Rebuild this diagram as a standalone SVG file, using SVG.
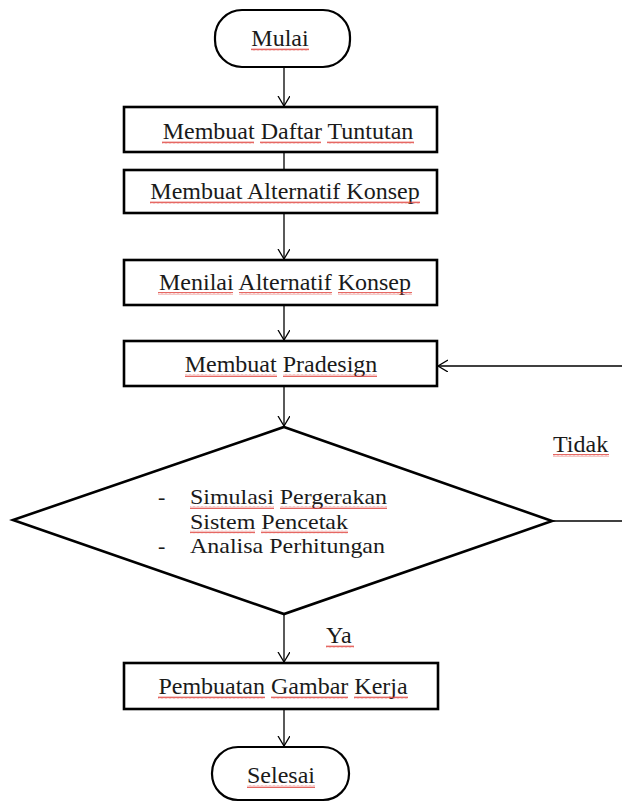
<svg xmlns="http://www.w3.org/2000/svg" width="622" height="803" viewBox="0 0 622 803">
  <style>
    .box { fill: #ffffff; stroke: #000000; stroke-width: 2.6; }
    .term { fill: #ffffff; stroke: #000000; stroke-width: 2.2; }
    .label { font-family: 'Liberation Serif', 'DejaVu Serif', serif; font-size: 24px; fill: #1a1a1a; }
    .small { font-size: 22px; }
    .mid { text-anchor: middle; }
    .conn { fill: none; stroke: #000000; stroke-width: 1.3; }
    .spell { fill: url(#squiggle); }
  </style>
  <defs>
    <marker id="arrow" markerUnits="userSpaceOnUse" markerWidth="12" markerHeight="14" refX="10" refY="6" orient="auto">
      <path d="M0,0 L10,6 L0,12" fill="none" stroke="#000000" stroke-width="1.3"/>
    </marker>
    <pattern id="squiggle" patternUnits="userSpaceOnUse" width="4" height="3">
      <path d="M0,2.4 L1,0.6 L2,2.4 L3,0.6 L4,2.4" fill="none" stroke="#e0403a" stroke-width="0.8"/>
    </pattern>
  </defs>

  <!-- connectors -->
  <g id="connectors">
    <line class="conn" x1="284" y1="67" x2="284" y2="106" marker-end="url(#arrow)"/>
    <line class="conn" x1="284" y1="152" x2="284" y2="170"/>
    <line class="conn" x1="284" y1="213" x2="284" y2="259" marker-end="url(#arrow)"/>
    <line class="conn" x1="284" y1="305" x2="284" y2="340" marker-end="url(#arrow)"/>
    <line class="conn" x1="284" y1="386" x2="284" y2="426" marker-end="url(#arrow)"/>
    <line class="conn" x1="552" y1="521" x2="622" y2="521"/>
    <line class="conn" x1="622" y1="366" x2="438" y2="366" stroke="#333333" stroke-width="1.5" marker-end="url(#arrow)"/>
    <line class="conn" x1="284" y1="614" x2="284" y2="662" marker-end="url(#arrow)"/>
    <line class="conn" x1="284" y1="709" x2="284" y2="746" marker-end="url(#arrow)"/>
  </g>

  <!-- start -->
  <g id="mulai">
    <rect class="term" x="215" y="10" width="135" height="57" rx="27" ry="27"/>
    <text class="label mid" x="280" y="46">Mulai</text>
    <rect class="spell" x="251" y="48" width="58" height="3"/>
  </g>

  <g id="daftar-tuntutan">
    <rect class="box" x="124" y="107" width="313" height="45"/>
    <text class="label mid" x="288" y="139">Membuat Daftar Tuntutan</text>
    <rect class="spell" x="162" y="141" width="92" height="3"/>
    <rect class="spell" x="260" y="141" width="61" height="3"/>
    <rect class="spell" x="327" y="141" width="87" height="3"/>
  </g>

  <g id="alternatif-konsep">
    <rect class="box" x="124" y="170" width="313" height="43"/>
    <text class="label mid" x="285" y="199">Membuat Alternatif Konsep</text>
    <rect class="spell" x="150" y="201" width="270" height="3"/>
  </g>

  <g id="menilai-konsep">
    <rect class="box" x="124" y="260" width="313" height="45"/>
    <text class="label mid" x="285" y="290">Menilai Alternatif Konsep</text>
    <rect class="spell" x="158" y="292" width="75" height="3"/>
    <rect class="spell" x="239" y="292" width="93" height="3"/>
    <rect class="spell" x="338" y="292" width="74" height="3"/>
  </g>

  <g id="pradesign">
    <rect class="box" x="124" y="341" width="313" height="45"/>
    <text class="label mid" x="281" y="372">Membuat Pradesign</text>
    <rect class="spell" x="185" y="374" width="92" height="3"/>
    <rect class="spell" x="283" y="374" width="94" height="3"/>
  </g>

  <!-- decision -->
  <g id="evaluasi">
    <polygon class="box" points="284,427 552,521 284,614 13,520"/>
    <text class="label small" x="158" y="504">-</text>
    <text class="label small" x="190" y="504" textLength="197" lengthAdjust="spacingAndGlyphs">Simulasi Pergerakan</text>
    <text class="label small" x="190" y="528.5" textLength="158" lengthAdjust="spacingAndGlyphs">Sistem Pencetak</text>
    <text class="label small" x="158" y="553">-</text>
    <text class="label small" x="190" y="553" textLength="195" lengthAdjust="spacingAndGlyphs">Analisa Perhitungan</text>
    <rect class="spell" x="190" y="506" width="84" height="3"/>
    <rect class="spell" x="280" y="506" width="107" height="3"/>
    <rect class="spell" x="190" y="530.5" width="65" height="3"/>
    <rect class="spell" x="261" y="530.5" width="87" height="3"/>
  </g>

  <g id="label-tidak">
    <text class="label" x="553" y="452">Tidak</text>
    <rect class="spell" x="553" y="454" width="56" height="3"/>
  </g>

  <g id="label-ya">
    <text class="label" x="326" y="643">Ya</text>
    <rect class="spell" x="326" y="645" width="28" height="3"/>
  </g>

  <g id="gambar-kerja">
    <rect class="box" x="124" y="663" width="314" height="46"/>
    <text class="label mid" x="283" y="694">Pembuatan Gambar Kerja</text>
    <rect class="spell" x="158" y="696" width="107" height="3"/>
    <rect class="spell" x="271" y="696" width="77" height="3"/>
    <rect class="spell" x="354" y="696" width="54" height="3"/>
  </g>

  <!-- end -->
  <g id="selesai">
    <rect class="term" x="212" y="747" width="137" height="53" rx="26" ry="26"/>
    <text class="label mid" x="281" y="783">Selesai</text>
    <rect class="spell" x="247" y="785" width="68" height="3"/>
  </g>
</svg>
